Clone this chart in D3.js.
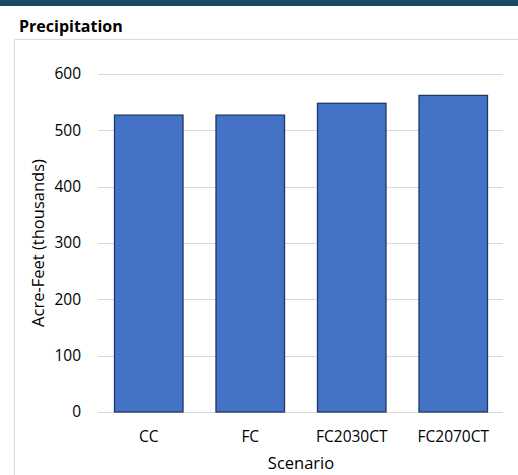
<!DOCTYPE html>
<html>
<head>
<meta charset="utf-8">
<script src="https://cdn.jsdelivr.net/npm/d3@7"></script>
<style>
  html, body { margin: 0; padding: 0; background: #fff; }
  svg { display: block; font-family: "Open Sans", sans-serif; }
</style>
</head>
<body>
<svg id="chart" width="518" height="475"></svg>
<script>
// Annual precipitation volume by scenario
const categories = ["CC", "FC", "FC2030CT", "FC2070CT"];
const values = [527, 527, 548, 562];
const yTicks = [0, 100, 200, 300, 400, 500, 600];

const svg = d3.select("#chart");
const W = 518, H = 475;
const FONT = "'Open Sans', sans-serif";

// Header band
svg.append("rect").attr("x", 0).attr("y", 0).attr("width", W).attr("height", 6).attr("fill", "#184a66");

// Title
svg.append("text").attr("x", 19).attr("y", 32)
  .attr("font-family", FONT)
  .attr("font-size", 16).attr("font-weight", "bold").attr("fill", "#000")
  .text("Precipitation");

// Chart frame
svg.append("path").attr("d", `M14.5,${H} V39.5 H${W}`)
  .attr("fill", "none").attr("stroke", "#d9d9d9").attr("stroke-width", 1);

const plot = { left: 98, right: 504, top: 74, bottom: 412 };

const x = d3.scaleBand().domain(categories).range([plot.left, plot.right]).paddingInner(0.325).paddingOuter(0.1625);
const y = d3.scaleLinear().domain([0, 600]).range([plot.bottom, plot.top]);

// Gridlines
svg.append("g").selectAll("line").data(yTicks).join("line")
  .attr("x1", plot.left).attr("x2", plot.right - 1)
  .attr("y1", d => Math.round(y(d)) + 0.5).attr("y2", d => Math.round(y(d)) + 0.5)
  .attr("stroke", "#d9d9d9").attr("stroke-width", 1);

// Y axis labels
const yAxis = svg.append("g").attr("transform", `translate(${plot.left},0)`)
  .call(d3.axisLeft(y).tickValues(yTicks).tickSize(0).tickPadding(17));
yAxis.select(".domain").remove();
yAxis.selectAll("text").attr("font-size", 15.5).attr("fill", "#000").attr("font-family", FONT);

// Bars
svg.append("g").selectAll("rect").data(values).join("rect")
  .attr("x", (d, i) => x(categories[i]))
  .attr("y", d => y(d))
  .attr("width", x.bandwidth())
  .attr("height", d => y(0) - y(d))
  .attr("fill", "#4472c4")
  .attr("stroke", "#1f3864").attr("stroke-width", 1.3);

// X axis labels
const xAxis = svg.append("g").attr("transform", `translate(0,${plot.bottom})`)
  .call(d3.axisBottom(x).tickSize(0).tickPadding(19));
xAxis.select(".domain").remove();
xAxis.selectAll("text").attr("font-size", 15.5).attr("fill", "#000").attr("font-family", FONT);

// Axis titles
svg.append("text").attr("x", (plot.left + plot.right) / 2).attr("y", 469)
  .attr("text-anchor", "middle").attr("font-size", 16.5).attr("fill", "#000")
  .attr("font-family", FONT)
  .text("Scenario");
svg.append("text").attr("transform", `translate(44,${(plot.top + plot.bottom) / 2}) rotate(-90)`)
  .attr("text-anchor", "middle").attr("font-size", 16.5).attr("fill", "#000")
  .attr("font-family", FONT)
  .text("Acre-Feet (thousands)");
</script>
</body>
</html>
